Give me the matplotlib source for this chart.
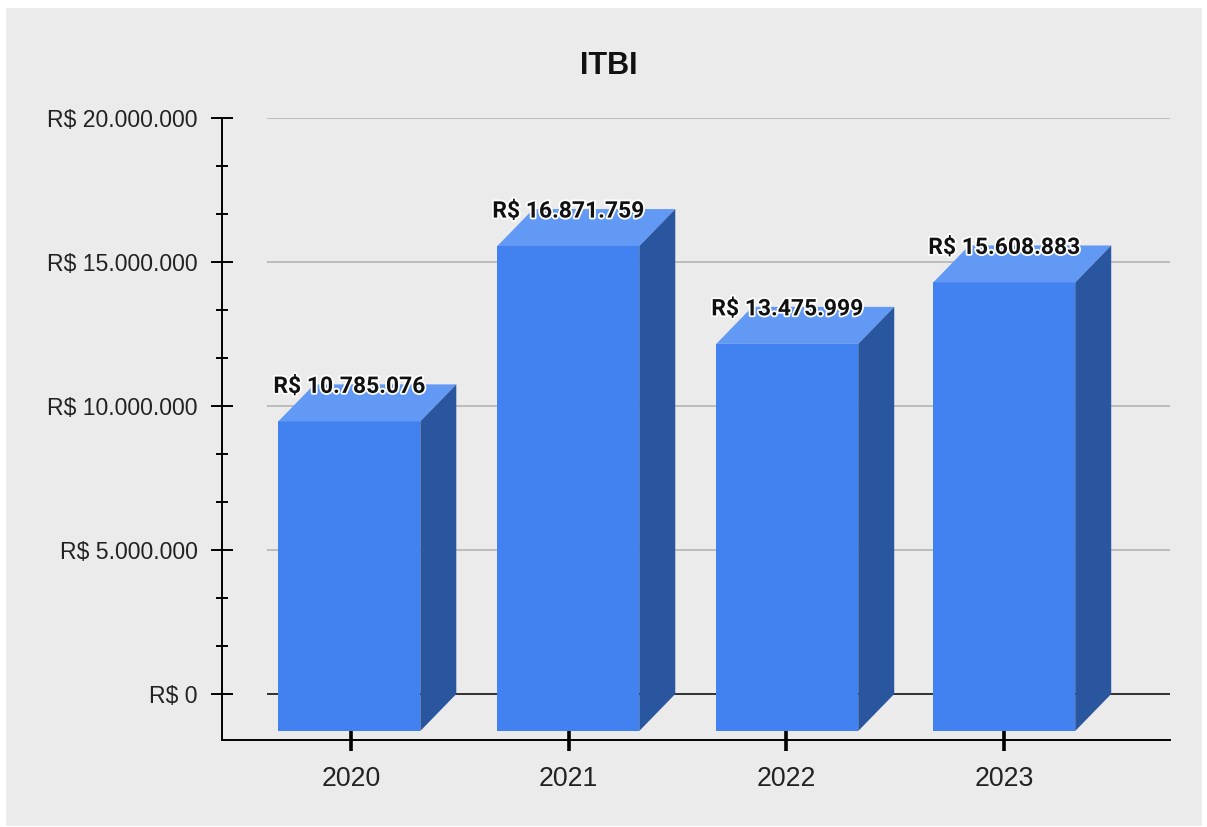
import matplotlib
matplotlib.use('Agg')
import matplotlib.pyplot as plt
from matplotlib.patches import Rectangle
import matplotlib.patheffects as pe

# Data
years = ['2020', '2021', '2022', '2023']
values = [10785076, 16871759, 13475999, 15608883]
labels = ['R$ 10.785.076', 'R$ 16.871.759', 'R$ 13.475.999', 'R$ 15.608.883']
y_ticks = [0, 5000000, 10000000, 15000000, 20000000]
y_tick_labels = ['R$ 0', 'R$ 5.000.000', 'R$ 10.000.000', 'R$ 15.000.000', 'R$ 20.000.000']

W, H = 1207, 827
plt.rcParams['font.family'] = ['Liberation Sans', 'DejaVu Sans']

fig = plt.figure(figsize=(W / 100, H / 100), dpi=100, facecolor='white')
fig.patches.append(Rectangle((6 / W, 1 / H), 1196 / W, 818 / H, transform=fig.transFigure,
                             facecolor='#ebebeb', edgecolor='none', zorder=-5))

# Axes box in pixels: left 222, right 1170, top 118, bottom 740
ax = fig.add_axes([222 / W, 1 - 740 / H, 948 / W, 622 / H])
ax.patch.set_visible(False)

px_y = 20000000 / 576  # value per pixel
px_x = 1 / 217.67  # category per pixel
ax.set_ylim(-46 * px_y, 20000000)
ax.set_xlim(-129 * px_x, 819 * px_x)

# 3D depth offset of the bars
dx = 36 * px_x
dy = 37 * px_y
bar_w = 142 * px_x
shifts = [-1.7 * px_x, -0.4 * px_x, 0.9 * px_x, 0.2 * px_x]
x = list(range(len(years)))

# Gridlines start right of the axis
for t in y_ticks:
    color = '#222222' if t == 0 else '#b9b9b9'
    ax.plot([-84 * px_x, 819 * px_x], [t, t], color=color, lw=1.3, zorder=1, solid_capstyle='butt')

for i, v in enumerate(values):
    left = x[i] + shifts[i] - bar_w / 2
    right = left + bar_w
    back_top = v - px_y  # tops sit about a pixel under the scale in the original
    front_top = back_top - dy
    ax.bar(left + bar_w / 2, back_top, width=bar_w, bottom=-dy, color='#4281f0', edgecolor='none', zorder=3)
    # top face
    ax.fill([left, right, right + dx, left + dx], [front_top, front_top, back_top, back_top],
            color='#6299f5', lw=0, zorder=3)
    # side face
    ax.fill([right, right + dx, right + dx, right], [-dy, 0, back_top, front_top],
            color='#2a569f', lw=0, zorder=3)
    ax.text(x[i] + shifts[i], v - 3 * px_y, labels[i], ha='center', va='center', fontsize=16.5,
            fontweight='bold', family=['Roboto', 'DejaVu Sans'], color='#111111', zorder=6,
            path_effects=[pe.withStroke(linewidth=2.6, foreground='white')])

for s in ['top', 'right']:
    ax.spines[s].set_visible(False)
for s in ['left', 'bottom']:
    ax.spines[s].set_linewidth(1.4)
    ax.spines[s].set_color('black')

ax.set_xticks(x)
ax.set_xticklabels(years, fontsize=19.2, color='#222222')
ax.tick_params(axis='x', direction='inout', length=16, width=2.6, color='black', pad=11)
ax.set_yticks(y_ticks)
ax.set_yticklabels(y_tick_labels, fontsize=16.6, color='#222222')
ax.tick_params(axis='y', direction='inout', length=16, width=1.4, color='black', pad=9.5)
ax.set_yticks([t * 5000000 / 3 for t in range(1, 12) if t % 3 != 0], minor=True)
ax.tick_params(axis='y', which='minor', direction='inout', length=8, width=1.4, color='black')
for t in ax.xaxis.get_major_ticks():
    t.tick1line.set_zorder(5)

fig.text(609 / W, 1 - 65.5 / H, 'ITBI', ha='center', va='center', fontsize=22, fontweight='bold', color='#111111')

plt.savefig('out.png', dpi=100)
